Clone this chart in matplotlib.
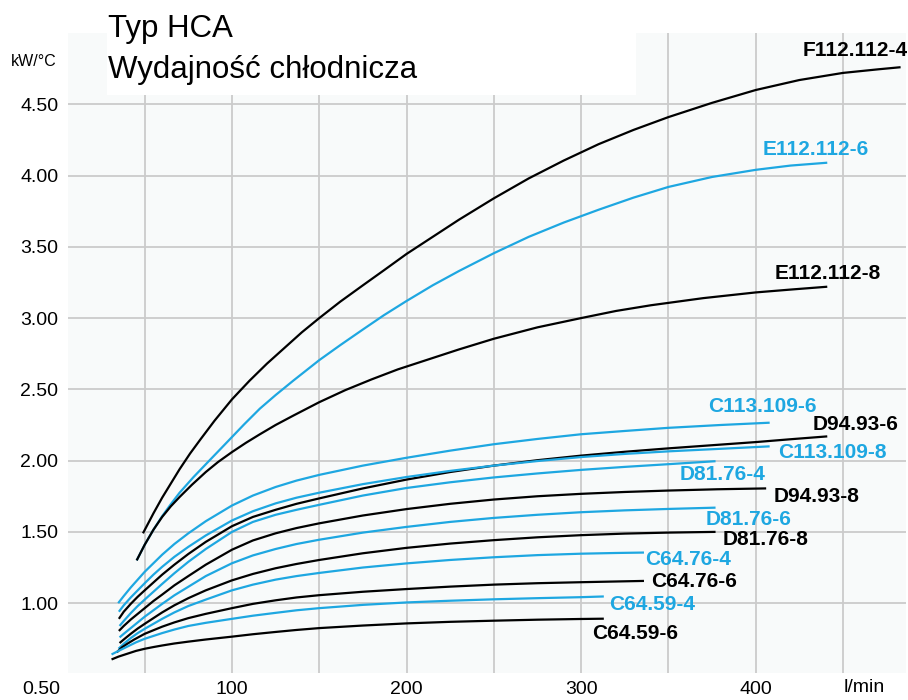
import numpy as np
import matplotlib
matplotlib.use('Agg')
import matplotlib.pyplot as plt
from matplotlib.patches import Rectangle

# Przepływ [l/min] i wydajność [kW/°C]
f112_112_4_x = [49, 55, 60, 65, 70, 76, 82, 90, 100, 110, 120, 130, 140, 150, 162, 175, 187, 200,
                215, 230, 250, 270, 290, 310, 330, 350, 375, 400, 425, 450, 470, 483]
f112_112_4_y = [1.49, 1.63, 1.74, 1.84, 1.94, 2.05, 2.15, 2.28, 2.43, 2.56, 2.68, 2.79, 2.90, 3.00,
                3.115, 3.23, 3.335, 3.45, 3.57, 3.69, 3.84, 3.98, 4.105, 4.22, 4.32, 4.41, 4.51,
                4.60, 4.67, 4.72, 4.745, 4.76]

e112_112_6_x = [45.4, 50, 55, 60, 65, 70, 78, 87, 98, 107, 116, 125, 135, 150, 162, 175, 187, 200,
                215, 230, 250, 270, 290, 310, 330, 350, 375, 400, 420, 441]
e112_112_6_y = [1.30, 1.41, 1.515, 1.61, 1.695, 1.775, 1.885, 2.00, 2.14, 2.255, 2.365, 2.46, 2.56,
                2.705, 2.81, 2.92, 3.02, 3.12, 3.23, 3.33, 3.455, 3.57, 3.67, 3.76, 3.845, 3.92,
                3.99, 4.04, 4.07, 4.09]

e112_112_8_x = [45.4, 50, 55, 60, 65, 70, 77, 85, 92, 100, 108, 116, 125, 135, 150, 165, 180, 195,
                210, 230, 250, 275, 300, 320, 340, 370, 400, 420, 441]
e112_112_8_y = [1.30, 1.41, 1.515, 1.605, 1.68, 1.745, 1.83, 1.92, 1.99, 2.06, 2.125, 2.185, 2.25,
                2.315, 2.41, 2.495, 2.57, 2.64, 2.70, 2.78, 2.855, 2.935, 3.00, 3.05, 3.09, 3.14,
                3.18, 3.20, 3.22]

c113_109_6_x = [34.8, 38, 42, 46, 50, 55, 60, 67, 75, 85, 100, 112, 125, 137, 150, 175, 200, 225,
                250, 275, 300, 325, 350, 380, 408]
c113_109_6_y = [1.00, 1.05, 1.11, 1.165, 1.22, 1.28, 1.34, 1.415, 1.49, 1.575, 1.685, 1.755, 1.815,
                1.86, 1.90, 1.965, 2.02, 2.07, 2.115, 2.152, 2.185, 2.208, 2.23, 2.25, 2.266]

c113_109_8_x = [35.2, 38, 42, 46, 50, 55, 60, 67, 75, 85, 100, 112, 125, 137, 150, 175, 200, 225,
                250, 275, 300, 325, 350, 380, 408]
c113_109_8_y = [0.94, 0.985, 1.04, 1.09, 1.14, 1.20, 1.255, 1.325, 1.395, 1.475, 1.58, 1.645, 1.70,
                1.74, 1.775, 1.835, 1.885, 1.928, 1.965, 1.997, 2.025, 2.047, 2.065, 2.083, 2.10]

d94_93_6_x = [35.2, 38, 42, 46, 50, 55, 60, 67, 75, 85, 100, 112, 125, 137, 150, 175, 200, 225,
              250, 275, 300, 325, 350, 375, 400, 420, 441]
d94_93_6_y = [0.89, 0.94, 0.995, 1.045, 1.09, 1.145, 1.20, 1.27, 1.345, 1.43, 1.54, 1.605, 1.655,
              1.697, 1.735, 1.805, 1.867, 1.92, 1.965, 2.003, 2.035, 2.062, 2.086, 2.108, 2.13,
              2.15, 2.17]

d81_76_4_x = [35.6, 38, 42, 46, 50, 55, 60, 67, 75, 85, 100, 112, 125, 137, 150, 175, 200, 225,
              250, 275, 300, 325, 350, 377]
d81_76_4_y = [0.84, 0.875, 0.93, 0.98, 1.025, 1.08, 1.135, 1.21, 1.29, 1.38, 1.50, 1.57, 1.62,
              1.655, 1.69, 1.755, 1.808, 1.848, 1.882, 1.91, 1.935, 1.956, 1.975, 1.996]

d94_93_8_x = [35.2, 38, 42, 46, 50, 55, 60, 67, 75, 85, 100, 112, 125, 137, 150, 175, 200, 225,
              250, 275, 300, 325, 350, 378, 406]
d94_93_8_y = [0.805, 0.84, 0.885, 0.925, 0.965, 1.015, 1.06, 1.125, 1.19, 1.27, 1.375, 1.44, 1.49,
              1.527, 1.56, 1.615, 1.66, 1.697, 1.727, 1.75, 1.767, 1.78, 1.79, 1.799, 1.805]

d81_76_6_x = [35.6, 38, 42, 46, 50, 55, 60, 67, 75, 85, 100, 112, 125, 137, 150, 175, 200, 225,
              250, 275, 300, 325, 350, 377]
d81_76_6_y = [0.76, 0.785, 0.825, 0.865, 0.905, 0.95, 0.995, 1.055, 1.115, 1.19, 1.28, 1.335, 1.38,
              1.415, 1.445, 1.495, 1.535, 1.57, 1.598, 1.62, 1.638, 1.651, 1.661, 1.67]

d81_76_8_x = [35.6, 38, 42, 46, 50, 55, 60, 67, 75, 85, 100, 112, 125, 137, 150, 175, 200, 225,
              250, 275, 300, 325, 350, 377]
d81_76_8_y = [0.72, 0.745, 0.785, 0.822, 0.855, 0.895, 0.935, 0.985, 1.035, 1.09, 1.16, 1.205,
              1.245, 1.275, 1.303, 1.35, 1.388, 1.418, 1.442, 1.462, 1.477, 1.488, 1.495, 1.50]

c64_76_4_x = [35, 38, 42, 46, 50, 55, 60, 67, 75, 85, 100, 112, 125, 137, 150, 175, 200, 225,
              250, 275, 300, 320, 336]
c64_76_4_y = [0.68, 0.715, 0.755, 0.79, 0.82, 0.855, 0.89, 0.935, 0.98, 1.025, 1.09, 1.13, 1.165,
              1.19, 1.212, 1.25, 1.279, 1.303, 1.322, 1.337, 1.347, 1.352, 1.355]

c64_76_6_x = [34, 37, 40, 44, 50, 55, 60, 67, 75, 85, 100, 112, 125, 137, 150, 175, 200, 225,
              250, 275, 300, 320, 336]
c64_76_6_y = [0.655, 0.69, 0.715, 0.745, 0.785, 0.81, 0.835, 0.865, 0.895, 0.925, 0.965, 0.995,
              1.02, 1.04, 1.056, 1.08, 1.099, 1.116, 1.13, 1.14, 1.147, 1.152, 1.156]

c64_59_4_x = [31, 35, 40, 45, 50, 55, 60, 67, 75, 85, 100, 112, 125, 137, 150, 175, 200, 225,
              250, 275, 300, 313]
c64_59_4_y = [0.64, 0.665, 0.695, 0.725, 0.75, 0.77, 0.79, 0.815, 0.84, 0.862, 0.89, 0.912, 0.932,
              0.95, 0.965, 0.988, 1.005, 1.017, 1.027, 1.035, 1.042, 1.047]

c64_59_6_x = [31, 35, 40, 45, 50, 55, 60, 67, 75, 85, 100, 112, 125, 137, 150, 175, 200, 225,
              250, 275, 300, 313]
c64_59_6_y = [0.605, 0.625, 0.645, 0.665, 0.68, 0.692, 0.703, 0.717, 0.73, 0.745, 0.765, 0.782,
              0.798, 0.812, 0.825, 0.843, 0.858, 0.869, 0.877, 0.884, 0.889, 0.891]

x_ticks = [100, 200, 300, 400]
x_grid = [50, 100, 150, 200, 250, 300, 350, 400, 450]
y_ticks = [1.0, 1.5, 2.0, 2.5, 3.0, 3.5, 4.0, 4.5]

BLUE = '#1ea7e1'
BLACK = '#000000'


def setup_font():
    """Ustawienie czcionki"""
    plt.rcParams['font.family'] = ['Liberation Sans', 'DejaVu Sans']


def main():
    setup_font()

    series = [
        ('F112.112-4', f112_112_4_x, f112_112_4_y, BLACK, (457, 4.88)),
        ('E112.112-6', e112_112_6_x, e112_112_6_y, BLUE, (434.5, 4.18)),
        ('E112.112-8', e112_112_8_x, e112_112_8_y, BLACK, (441, 3.315)),
        ('C113.109-6', c113_109_6_x, c113_109_6_y, BLUE, (404, 2.378)),
        ('D94.93-6', d94_93_6_x, d94_93_6_y, BLACK, (457, 2.25)),
        ('C113.109-8', c113_109_8_x, c113_109_8_y, BLUE, (444, 2.054)),
        ('D81.76-4', d81_76_4_x, d81_76_4_y, BLUE, (381, 1.906)),
        ('D94.93-8', d94_93_8_x, d94_93_8_y, BLACK, (435, 1.745)),
        ('D81.76-6', d81_76_6_x, d81_76_6_y, BLUE, (396, 1.584)),
        ('D81.76-8', d81_76_8_x, d81_76_8_y, BLACK, (405.5, 1.444)),
        ('C64.76-4', c64_76_4_x, c64_76_4_y, BLUE, (361, 1.304)),
        ('C64.76-6', c64_76_6_x, c64_76_6_y, BLACK, (364.5, 1.151)),
        ('C64.59-4', c64_59_4_x, c64_59_4_y, BLUE, (340.5, 0.988)),
        ('C64.59-6', c64_59_6_x, c64_59_6_y, BLACK, (331, 0.785)),
    ]

    W, H = 908, 700
    fig = plt.figure(figsize=(W / 100, H / 100), dpi=100)
    ax = fig.add_axes([68 / W, 27 / H, 838 / W, 640 / H])
    ax.set_facecolor('#f8fafa')
    ax.set_xlim(6.06, 486.1)
    ax.set_ylim(0.51, 5.0)

    # siatka
    for gx in x_grid:
        ax.axvline(gx, color='#cbcbcb', lw=1.3, zorder=1)
    for gy in y_ticks:
        ax.axhline(gy, color='#cbcbcb', lw=1.3, zorder=1)

    # krzywe
    for name, xs, ys, col, (tx, ty) in series:
        ax.plot(xs, ys, color=col, lw=1.6, solid_capstyle='butt',
                solid_joinstyle='round', zorder=3)
        ax.text(tx, ty, name, color=col, fontsize=15, fontweight='bold',
                ha='center', va='center', zorder=4)

    ax.set_xticks(x_ticks)
    ax.set_xticklabels([str(v) for v in x_ticks])
    ax.set_yticks(y_ticks)
    ax.set_yticklabels([f'{v:.2f}' for v in y_ticks])
    ax.tick_params(length=0, labelsize=14, colors='black')
    ax.tick_params(axis='x', pad=6)
    ax.tick_params(axis='y', pad=7)
    for s in ax.spines.values():
        s.set_visible(False)

    # biała ramka z tytułem
    fig.patches.append(Rectangle((107 / W, 1 - 95 / H), (636 - 107) / W, 95 / H,
                                 transform=fig.transFigure, facecolor='white',
                                 edgecolor='none', zorder=5))
    fig.text(108 / W, 1 - 37 / H, 'Typ HCA', fontsize=22.5, ha='left', va='baseline', zorder=6)
    fig.text(108 / W, 1 - 78 / H, 'Wydajność chłodnicza', fontsize=22.5, ha='left',
             va='baseline', zorder=6)

    fig.text(57 / W, 1 - 61 / H, 'kW/°C', fontsize=11.5, ha='right', va='center')
    fig.text(60 / W, 1 - 690 / H, '0.50', fontsize=14, ha='right', va='center')
    fig.text(864 / W, 1 - 688 / H, 'l/min', fontsize=14, ha='center', va='center')

    fig.savefig('out.png', dpi=100)


if __name__ == "__main__":
    main()
